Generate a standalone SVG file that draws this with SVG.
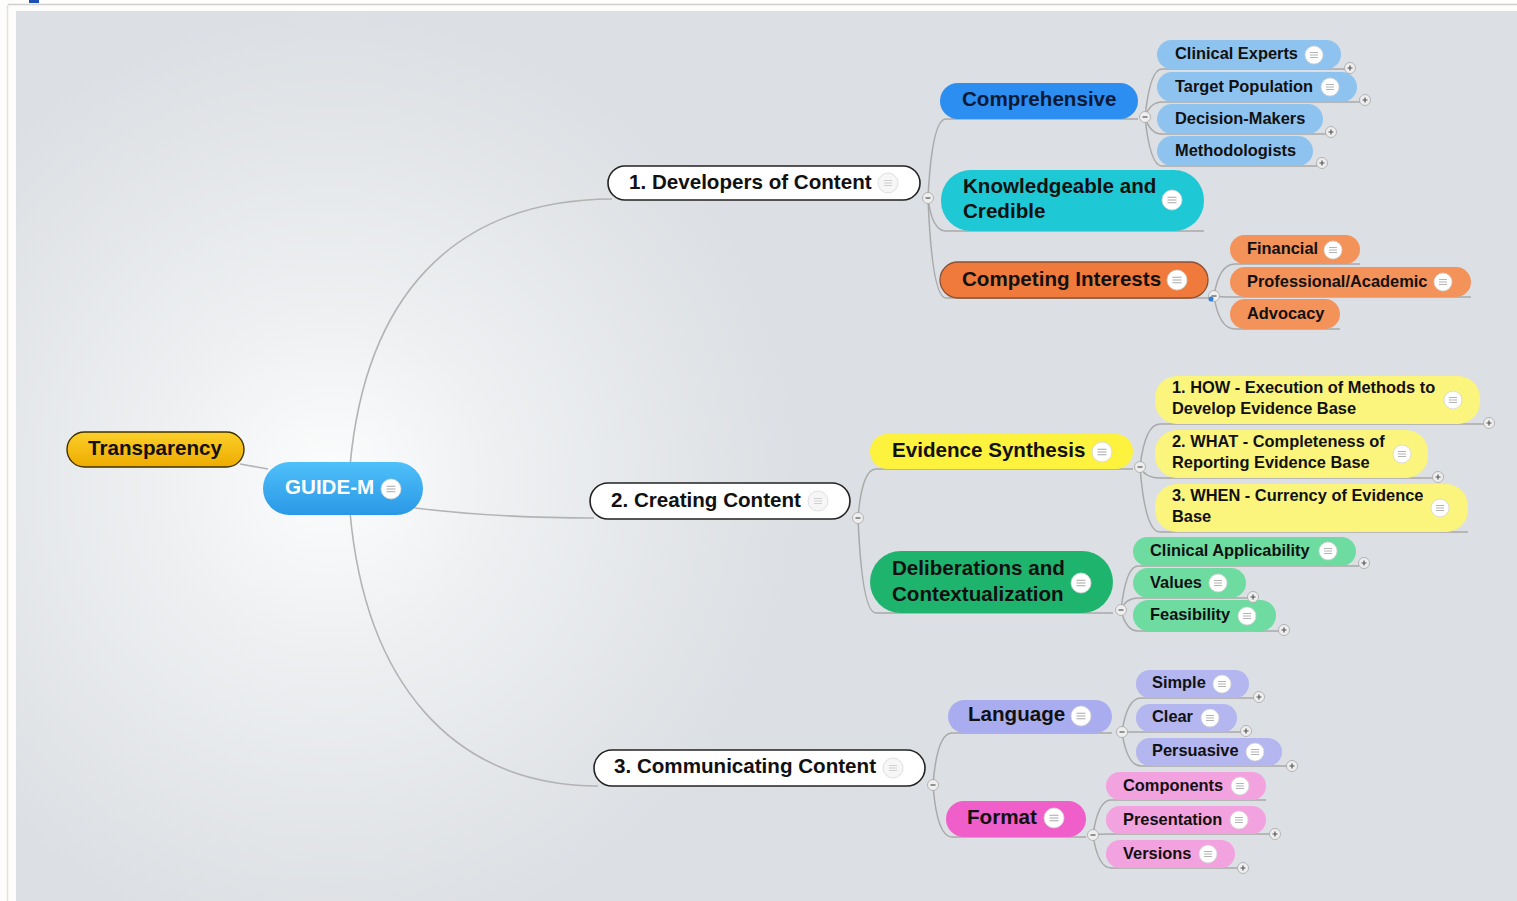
<svg xmlns="http://www.w3.org/2000/svg" xmlns:xlink="http://www.w3.org/1999/xlink" width="1517" height="901" viewBox="0 0 1517 901">
  <defs>
    <radialGradient id="glow" gradientUnits="userSpaceOnUse" cx="330" cy="480" r="470">
      <stop offset="0" stop-color="#fcfdfd"/>
      <stop offset="0.35" stop-color="#eef0f2"/>
      <stop offset="1" stop-color="#dcdfe3"/>
    </radialGradient>
    <linearGradient id="gYellow" x1="0" y1="0" x2="0" y2="1">
      <stop offset="0" stop-color="#fbd02a"/>
      <stop offset="1" stop-color="#eeab00"/>
    </linearGradient>
    <linearGradient id="gBlue" x1="0" y1="0" x2="0" y2="1">
      <stop offset="0" stop-color="#4fc0fa"/>
      <stop offset="1" stop-color="#2a98e6"/>
    </linearGradient>
    <!-- note badge shown on topics -->
    <g id="note">
      <circle r="9" fill="#ffffff" stroke="#d4d4d4" stroke-width="0.8"/>
      <path d="M-4 -2.5H4M-4 0H4M-4 2.5H4" stroke="#b4b4b4" stroke-width="1"/>
    </g>
    <g id="noteFaint">
      <circle r="10" fill="#f6f6f6" stroke="#d8d8d8" stroke-width="0.8"/>
      <path d="M-4 -2.5H4M-4 0H4M-4 2.5H4" stroke="#d0d0d0" stroke-width="1"/>
    </g>
    <g id="noteBig">
      <circle r="10" fill="#ffffff" stroke="#d4d4d4" stroke-width="0.8"/>
      <path d="M-4.5 -2.8H4.5M-4.5 0H4.5M-4.5 2.8H4.5" stroke="#a8a8a8" stroke-width="1.1"/>
    </g>
    <!-- collapse / expand toggles -->
    <g id="minus">
      <circle r="5.5" fill="#eeeeee" stroke="#a6a6a6" stroke-width="0.8"/>
      <path d="M-2.5 0H2.5" stroke="#555" stroke-width="1.2"/>
    </g>
    <g id="plus">
      <circle r="5.5" fill="#eeeeee" stroke="#a6a6a6" stroke-width="0.8"/>
      <path d="M-2.5 0H2.5M0 -2.5V2.5" stroke="#555" stroke-width="1.2"/>
    </g>
    <style>
      text { font-family: "Liberation Sans", Arial, Helvetica, sans-serif; font-weight: bold; fill: #111111; }
      .t20 { font-size: 20.6px; }
      .t16 { font-size: 16.4px; }
      .white { fill: #ffffff; }
      .navy { fill: #0c1a36; }
      .link { fill: none; stroke: #a9a9a9; stroke-width: 1.5; }
      .main { fill: none; stroke: #b3b3b3; stroke-width: 1.6; }
      .l1 { fill: #ffffff; stroke: #222222; stroke-width: 1.6; }
    </style>
  </defs>

  <!-- page frame -->
  <rect x="0" y="0" width="1517" height="901" fill="#fdfdfb"/>
  <line x1="8" y1="4.5" x2="1517" y2="4.5" stroke="#cfcfcf" stroke-width="1.5"/>
  <line x1="7.5" y1="5" x2="7.5" y2="901" stroke="#e6e2d6" stroke-width="1.5"/>
  <rect x="29" y="0" width="10" height="3" fill="#1d4fb4"/>
  <rect x="16" y="11" width="1501" height="890" fill="url(#glow)"/>

  <!-- connectors -->
  <g id="connectors">
    <path class="main" d="M240 464 L268 469"/>
    <path class="main" d="M350 466 C365 300 450 200 612 199"/>
    <path class="main" d="M415 508 C480 516 540 518 594 518"/>
    <path class="main" d="M350 512 C365 680 450 785 598 786"/>

    <!-- 1. Developers of Content -->
    <path class="link" d="M928 198 Q932 119 946 119 H1138"/>
    <path class="link" d="M928 198 Q932 231 946 231 H1204"/>
    <path class="link" d="M928 198 Q932 298 946 298 H1210"/>
    <path class="link" d="M1145 117 Q1150 69 1162 69 H1346"/>
    <path class="link" d="M1145 117 Q1150 102 1162 102 H1360"/>
    <path class="link" d="M1145 117 Q1150 134 1162 134 H1326"/>
    <path class="link" d="M1145 117 Q1150 166 1162 166 H1317"/>
    <path class="link" d="M1214 296 Q1219 264 1235 264 H1360"/>
    <path class="link" d="M1214 296 Q1219 297 1235 297 H1471"/>
    <path class="link" d="M1214 296 Q1219 329 1235 329 H1340"/>

    <!-- 2. Creating Content -->
    <path class="link" d="M858 518 Q862 469 876 469 H1133"/>
    <path class="link" d="M858 518 Q862 613 876 613 H1113"/>
    <path class="link" d="M1140 467 Q1145 424 1160 424 H1484"/>
    <path class="link" d="M1140 467 Q1145 478 1160 478 H1433"/>
    <path class="link" d="M1140 467 Q1145 532 1160 532 H1468"/>
    <path class="link" d="M1121 610 Q1126 566 1138 566 H1359"/>
    <path class="link" d="M1121 610 Q1126 598 1138 598 H1248"/>
    <path class="link" d="M1121 610 Q1126 631 1138 631 H1279"/>

    <!-- 3. Communicating Content -->
    <path class="link" d="M933 785 Q937 733 952 733 H1112"/>
    <path class="link" d="M933 785 Q937 837 952 837 H1086"/>
    <path class="link" d="M1122 732 Q1127 698 1141 698 H1254"/>
    <path class="link" d="M1122 732 Q1127 732 1141 732 H1241"/>
    <path class="link" d="M1122 732 Q1127 766 1141 766 H1287"/>
    <path class="link" d="M1093 835 Q1098 800 1111 800 H1266"/>
    <path class="link" d="M1093 835 Q1098 834 1111 834 H1270"/>
    <path class="link" d="M1093 835 Q1098 868 1111 868 H1238"/>
  </g>

  <!-- root and floating topic -->
  <g id="transparency">
    <rect x="67" y="432" width="177" height="35" rx="17.5" fill="url(#gYellow)" stroke="#3e3000" stroke-width="1.4"/>
    <text class="t20" x="88" y="455">Transparency</text>
  </g>
  <g id="guide-m">
    <rect x="263" y="462" width="160" height="53" rx="26.5" fill="url(#gBlue)"/>
    <text class="t20 white" x="285" y="494">GUIDE-M</text>
    <use href="#noteBig" x="391" y="489"/>
  </g>

  <!-- main branches -->
  <g id="developers">
    <rect class="l1" x="608" y="166" width="312" height="34" rx="17"/>
    <text class="t20" x="629" y="189">1. Developers of Content</text>
    <use href="#noteFaint" x="888" y="183"/>
  </g>
  <g id="creating">
    <rect class="l1" x="590" y="483" width="260" height="36" rx="18"/>
    <text class="t20" x="611" y="507">2. Creating Content</text>
    <use href="#noteFaint" x="818" y="501"/>
  </g>
  <g id="communicating">
    <rect class="l1" x="594" y="750" width="331" height="36" rx="18"/>
    <text class="t20" x="614" y="773">3. Communicating Content</text>
    <use href="#noteFaint" x="893" y="768"/>
  </g>

  <!-- Developers of Content subtopics -->
  <g id="comprehensive">
    <rect x="940" y="83" width="198" height="36" rx="18" fill="#2c8ef1"/>
    <text class="t20 navy" x="962" y="106">Comprehensive</text>
  </g>
  <g id="clinical-experts">
    <rect x="1157" y="40" width="184" height="29" rx="14.5" fill="#8fc3ef"/>
    <text class="t16" x="1175" y="59">Clinical Experts</text>
    <use href="#note" x="1314" y="55"/>
  </g>
  <g id="target-population">
    <rect x="1157" y="72" width="200" height="30" rx="15" fill="#8fc3ef"/>
    <text class="t16" x="1175" y="92">Target Population</text>
    <use href="#note" x="1330" y="87"/>
  </g>
  <g id="decision-makers">
    <rect x="1157" y="104" width="166" height="30" rx="15" fill="#8fc3ef"/>
    <text class="t16" x="1175" y="124">Decision-Makers</text>
  </g>
  <g id="methodologists">
    <rect x="1157" y="136" width="156" height="30" rx="15" fill="#8fc3ef"/>
    <text class="t16" x="1175" y="156">Methodologists</text>
  </g>
  <g id="knowledgeable">
    <rect x="941" y="170" width="263" height="61" rx="30" fill="#1ec8d4"/>
    <text class="t20" x="963" y="193">Knowledgeable and</text>
    <text class="t20" x="963" y="218">Credible</text>
    <use href="#noteBig" x="1172" y="200"/>
  </g>
  <g id="competing-interests">
    <rect x="940" y="262" width="268" height="36" rx="18" fill="#ef7a3c" stroke="#8a5236" stroke-width="1.3"/>
    <text class="t20" x="962" y="286">Competing Interests</text>
    <use href="#noteBig" x="1177" y="280"/>
  </g>
  <g id="financial">
    <rect x="1230" y="235" width="130" height="29" rx="14.5" fill="#f39259"/>
    <text class="t16" x="1247" y="254">Financial</text>
    <use href="#note" x="1333" y="250"/>
  </g>
  <g id="professional-academic">
    <rect x="1230" y="267" width="241" height="30" rx="15" fill="#f39259"/>
    <text class="t16" x="1247" y="287">Professional/Academic</text>
    <use href="#note" x="1443" y="282"/>
  </g>
  <g id="advocacy">
    <rect x="1230" y="299" width="110" height="30" rx="15" fill="#f39259"/>
    <text class="t16" x="1247" y="319">Advocacy</text>
  </g>

  <!-- Creating Content subtopics -->
  <g id="evidence-synthesis">
    <rect x="870" y="434" width="263" height="35" rx="17.5" fill="#fdf23e"/>
    <text class="t20" x="892" y="457">Evidence Synthesis</text>
    <use href="#noteBig" x="1102" y="452"/>
  </g>
  <g id="how">
    <rect x="1155" y="376" width="325" height="48" rx="22" fill="#fcf57d"/>
    <text class="t16" x="1172" y="393">1. HOW - Execution of Methods to</text>
    <text class="t16" x="1172" y="414">Develop Evidence Base</text>
    <use href="#note" x="1453" y="400"/>
  </g>
  <g id="what">
    <rect x="1155" y="430" width="273" height="48" rx="22" fill="#fcf57d"/>
    <text class="t16" x="1172" y="447">2. WHAT - Completeness of</text>
    <text class="t16" x="1172" y="468">Reporting Evidence Base</text>
    <use href="#note" x="1402" y="454"/>
  </g>
  <g id="when">
    <rect x="1155" y="484" width="313" height="48" rx="22" fill="#fcf57d"/>
    <text class="t16" x="1172" y="501">3. WHEN - Currency of Evidence</text>
    <text class="t16" x="1172" y="522">Base</text>
    <use href="#note" x="1440" y="508"/>
  </g>
  <g id="deliberations">
    <rect x="870" y="551" width="243" height="62" rx="31" fill="#1fb46e"/>
    <text class="t20" x="892" y="575">Deliberations and</text>
    <text class="t20" x="892" y="601">Contextualization</text>
    <use href="#noteBig" x="1081" y="583"/>
  </g>
  <g id="clinical-applicability">
    <rect x="1133" y="537" width="223" height="29" rx="14.5" fill="#6edba1"/>
    <text class="t16" x="1150" y="556">Clinical Applicability</text>
    <use href="#note" x="1328" y="551"/>
  </g>
  <g id="values">
    <rect x="1133" y="568" width="113" height="30" rx="15" fill="#6edba1"/>
    <text class="t16" x="1150" y="588">Values</text>
    <use href="#note" x="1218" y="583"/>
  </g>
  <g id="feasibility">
    <rect x="1133" y="600" width="143" height="31" rx="15.5" fill="#6edba1"/>
    <text class="t16" x="1150" y="620">Feasibility</text>
    <use href="#note" x="1247" y="616"/>
  </g>

  <!-- Communicating Content subtopics -->
  <g id="language">
    <rect x="948" y="700" width="164" height="33" rx="16.5" fill="#a9adef"/>
    <text class="t20" x="968" y="721">Language</text>
    <use href="#noteBig" x="1081" y="716"/>
  </g>
  <g id="simple">
    <rect x="1136" y="670" width="113" height="28" rx="14" fill="#b3b6ef"/>
    <text class="t16" x="1152" y="688">Simple</text>
    <use href="#note" x="1222" y="684"/>
  </g>
  <g id="clear">
    <rect x="1136" y="704" width="101" height="28" rx="14" fill="#b3b6ef"/>
    <text class="t16" x="1152" y="722">Clear</text>
    <use href="#note" x="1210" y="718"/>
  </g>
  <g id="persuasive">
    <rect x="1136" y="738" width="146" height="28" rx="14" fill="#b3b6ef"/>
    <text class="t16" x="1152" y="756">Persuasive</text>
    <use href="#note" x="1255" y="752"/>
  </g>
  <g id="format">
    <rect x="946" y="801" width="140" height="36" rx="18" fill="#ef5ec9"/>
    <text class="t20" x="967" y="824">Format</text>
    <use href="#noteBig" x="1054" y="818"/>
  </g>
  <g id="components">
    <rect x="1106" y="772" width="160" height="28" rx="14" fill="#f3a2e0"/>
    <text class="t16" x="1123" y="791">Components</text>
    <use href="#note" x="1240" y="786"/>
  </g>
  <g id="presentation">
    <rect x="1106" y="806" width="160" height="28" rx="14" fill="#f3a2e0"/>
    <text class="t16" x="1123" y="825">Presentation</text>
    <use href="#note" x="1239" y="820"/>
  </g>
  <g id="versions">
    <rect x="1106" y="840" width="129" height="28" rx="14" fill="#f3a2e0"/>
    <text class="t16" x="1123" y="859">Versions</text>
    <use href="#note" x="1208" y="854"/>
  </g>

  <!-- collapse toggles -->
  <g id="toggles">
    <use href="#minus" x="928" y="198"/>
    <use href="#minus" x="858" y="518"/>
    <use href="#minus" x="933" y="785"/>
    <use href="#minus" x="1145" y="117"/>
    <use href="#minus" x="1214" y="296"/>
    <circle cx="1211" cy="299" r="2.5" fill="#2f7fd6"/>
    <use href="#minus" x="1140" y="467"/>
    <use href="#minus" x="1121" y="610"/>
    <use href="#minus" x="1122" y="732"/>
    <use href="#minus" x="1093" y="835"/>
    <use href="#plus" x="1350" y="68"/>
    <use href="#plus" x="1365" y="100"/>
    <use href="#plus" x="1331" y="132"/>
    <use href="#plus" x="1322" y="163"/>
    <use href="#plus" x="1489" y="423"/>
    <use href="#plus" x="1438" y="477"/>
    <use href="#plus" x="1364" y="563"/>
    <use href="#plus" x="1253" y="597"/>
    <use href="#plus" x="1284" y="630"/>
    <use href="#plus" x="1259" y="697"/>
    <use href="#plus" x="1246" y="731"/>
    <use href="#plus" x="1292" y="766"/>
    <use href="#plus" x="1275" y="834"/>
    <use href="#plus" x="1243" y="868"/>
  </g>
</svg>
